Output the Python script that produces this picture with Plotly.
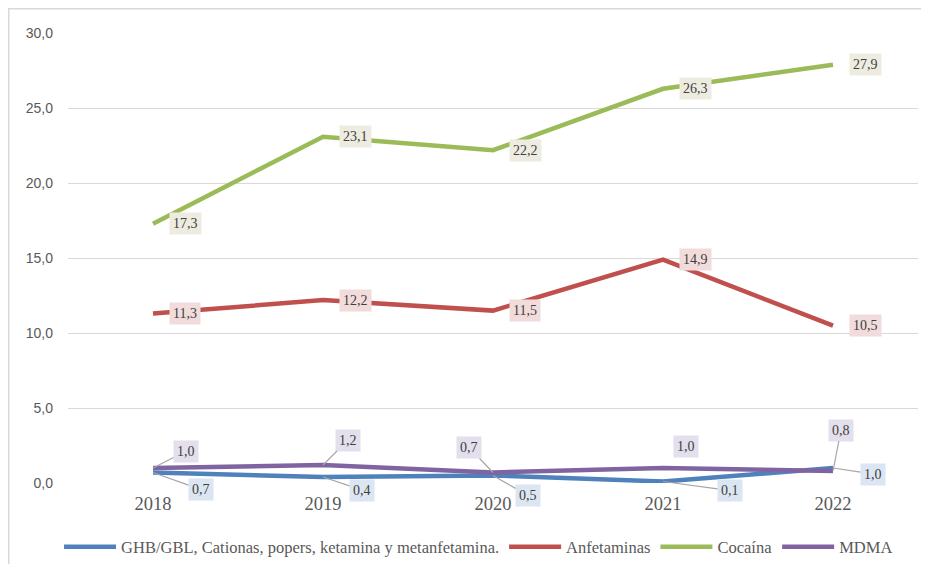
import plotly.graph_objects as go

YEARS = ["2018", "2019", "2020", "2021", "2022"]

GHB = [0.7, 0.4, 0.5, 0.1, 1.0]
ANFETAMINAS = [11.3, 12.2, 11.5, 14.9, 10.5]
COCAINA = [17.3, 23.1, 22.2, 26.3, 27.9]
MDMA = [1.0, 1.2, 0.7, 1.0, 0.8]

SERIES_NAMES = [
    "GHB/GBL, Cationas, popers, ketamina y metanfetamina.",
    "Anfetaminas",
    "Cocaína",
    "MDMA",
]

_SERIF = "Liberation Serif, DejaVu Serif, serif"
_SANS = "Liberation Sans, Arial, sans-serif"
_TXT = "#595959"

# line colour, label background
_STYLE = [
    ("#4F81BD", "#DCE6F2"),
    ("#C0504D", "#F2DCDB"),
    ("#9BBB59", "#EEECE1"),
    ("#8064A2", "#E4DFEC"),
]

# label offsets (px) for the small series, arrow=True draws a leader line
_GHB_OFF = [(48, 17, True), (39, 13, True), (35, 20, True), (67, 9, True), (40, 6, True)]
_MDMA_OFF = [(33, -17, True), (25, -25, True), (-24, -25, True), (23, -22, False), (8, -41, True)]

# the page body adds an 8px margin, so the figure is sized to fit inside the window
W, H = 913, 556
L, T = 60, 25
PW, PH = 850, 450
R, B = W - L - PW, H - T - PH

fig = go.Figure()
all_vals = [GHB, ANFETAMINAS, COCAINA, MDMA]
for name, vals, (col, _) in zip(SERIES_NAMES, all_vals, _STYLE):
    fig.add_trace(go.Scatter(
        x=YEARS, y=vals, name=name, mode="lines",
        line=dict(color=col, width=4.5),
    ))


def _lbl(v):
    return f"{v:.1f}".replace(".", ",")


_LBL_FONT = dict(family=_SERIF, size=14, color="#404040")

ann = []
for vals, bg in [(ANFETAMINAS, _STYLE[1][1]), (COCAINA, _STYLE[2][1])]:
    for i, v in enumerate(vals):
        ann.append(dict(
            x=i, y=v, text=_lbl(v), showarrow=False, xshift=32,
            bgcolor=bg, borderpad=3, font=_LBL_FONT,
        ))

for vals, offs, bg in [(GHB, _GHB_OFF, _STYLE[0][1]), (MDMA, _MDMA_OFF, _STYLE[3][1])]:
    for i, (v, (dx, dy, arrow)) in enumerate(zip(vals, offs)):
        a = dict(x=i, y=v, text=_lbl(v), bgcolor=bg, borderpad=3, font=_LBL_FONT)
        if arrow:
            a.update(showarrow=True, ax=dx, ay=dy, arrowhead=0, arrowwidth=1.2,
                     arrowcolor="#A6A6A6", standoff=0)
        else:
            a.update(showarrow=False, xshift=dx, yshift=-dy)
        ann.append(a)

# chart border: only the left and top edges are inside the picture
_border = dict(color="#D9D9D9", width=3)
x_left, y_top = -L / PW, (PH + T) / PH

fig.update_layout(
    width=W, height=H,
    margin=dict(l=L, r=R, t=T, b=B, autoexpand=False),
    paper_bgcolor="white", plot_bgcolor="white",
    separators=", ",
    showlegend=True,
    legend=dict(
        orientation="h", x=0.483, xanchor="center", y=-64 / PH, yanchor="middle",
        font=dict(family=_SERIF, size=16.5, color=_TXT),
        tracegroupgap=0, itemwidth=52,
    ),
    xaxis=dict(
        type="category", range=[-0.5, 4.5], showgrid=False, zeroline=False,
        showline=False, ticks="", ticklabelstandoff=7,
        tickfont=dict(family=_SERIF, size=18.5, color=_TXT),
    ),
    yaxis=dict(
        range=[0, 30.02], tick0=0, dtick=5, tickformat=".1f",
        showgrid=True, gridcolor="#D9D9D9", gridwidth=1.2,
        zeroline=False, showline=False, ticks="",
        ticklabelstandoff=14,
        tickfont=dict(family=_SANS, size=14, color=_TXT),
    ),
    annotations=ann,
    shapes=[
        dict(type="line", xref="paper", yref="paper", layer="above",
             x0=x_left, x1=x_left, y0=-(B + 10) / PH, y1=y_top, line=_border),
        dict(type="line", xref="paper", yref="paper", layer="above",
             x0=x_left, x1=(W + 10 - L) / PW, y0=y_top, y1=y_top, line=_border),
    ],
)

fig.write_html("out.html")
